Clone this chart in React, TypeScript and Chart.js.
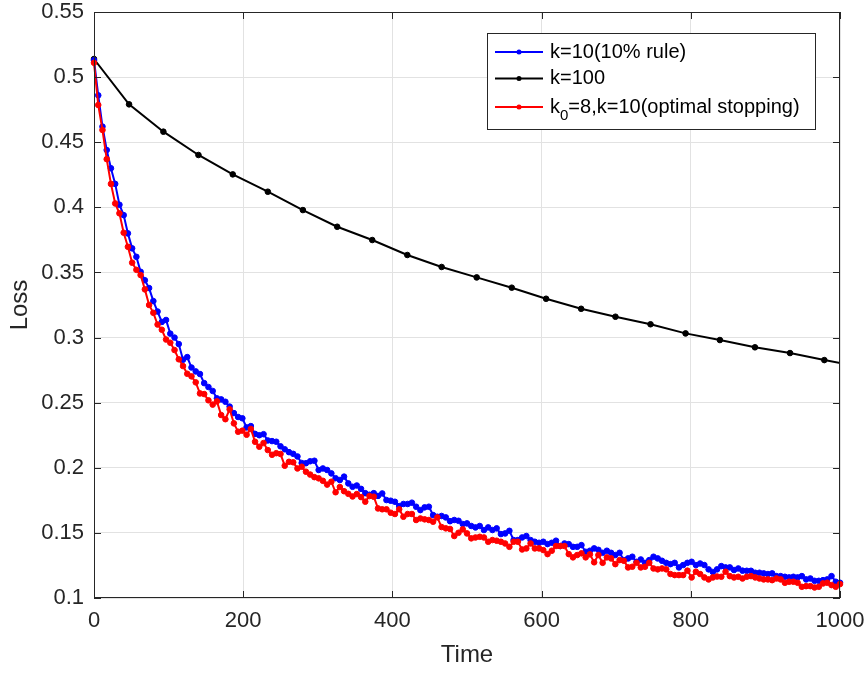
import React, { useEffect, useRef } from "react";
import { Chart, registerables } from "chart.js";

Chart.register(...registerables);

// ---- data ----
const xTickValues = [0, 200, 400, 600, 800, 1000];
const yTickValues = [0.1, 0.15, 0.2, 0.25, 0.3, 0.35, 0.4, 0.45, 0.5, 0.55];

const blackTimes = [0, 47, 93, 140, 186, 233, 280, 326, 373, 420, 466, 513, 560, 606, 653, 699, 746, 793, 839, 886, 933, 979, 1026];
const blackLoss = [0.5139, 0.4791, 0.4581, 0.4402, 0.4253, 0.412, 0.3979, 0.3851, 0.3749, 0.3634, 0.3542, 0.3462, 0.3383, 0.3298, 0.3221, 0.316, 0.3102, 0.3032, 0.2981, 0.2925, 0.2881, 0.2827, 0.2777];

const blueLoss = [
  0.513, 0.486, 0.462, 0.444, 0.43, 0.418, 0.402, 0.394, 0.38, 0.3685,
  0.362, 0.3505, 0.344, 0.338, 0.328, 0.32, 0.312, 0.3135, 0.303, 0.3,
  0.295, 0.283, 0.285, 0.277, 0.274, 0.272, 0.265, 0.262, 0.259, 0.2533,
  0.2525, 0.2507, 0.247, 0.242, 0.239, 0.238, 0.231, 0.232, 0.226, 0.225,
  0.2258, 0.221, 0.2205, 0.22, 0.2165, 0.2142, 0.212, 0.2107, 0.2087, 0.2037,
  0.2035, 0.205, 0.2054, 0.1983, 0.1995, 0.1983, 0.1957, 0.192, 0.1906, 0.1932,
  0.188, 0.1854, 0.1864, 0.1838, 0.1805, 0.1793, 0.1805, 0.1784, 0.1803, 0.1752,
  0.1747, 0.1739, 0.1706, 0.1722, 0.1722, 0.1732, 0.1701, 0.1675, 0.1696, 0.1701,
  0.1637, 0.1624, 0.163, 0.1619, 0.159, 0.1599, 0.1593, 0.1568, 0.1573, 0.1553,
  0.1542, 0.1553, 0.1522, 0.1542, 0.1522, 0.1535, 0.1491, 0.1496, 0.1516, 0.1445,
  0.1445, 0.1465, 0.1476, 0.1445, 0.1432, 0.1424, 0.1432, 0.1414, 0.1424, 0.144,
  0.1399, 0.1419, 0.1414, 0.1393, 0.1393, 0.1406, 0.1355, 0.1363, 0.1381, 0.137,
  0.1347, 0.1363, 0.1347, 0.133, 0.1347, 0.1291, 0.1304, 0.1317, 0.1278, 0.1296,
  0.127, 0.1291, 0.1317, 0.1304, 0.1286, 0.127, 0.126, 0.127, 0.1235, 0.1253,
  0.127, 0.1278, 0.1253, 0.1265, 0.1253, 0.122, 0.12, 0.122, 0.1245, 0.1235,
  0.1235, 0.1215, 0.1227, 0.121, 0.1209, 0.1209, 0.1194, 0.1194, 0.1189, 0.1184,
  0.1189, 0.1168, 0.1168, 0.1163, 0.1158, 0.1163, 0.1158, 0.1168, 0.1143, 0.115,
  0.1132, 0.1132, 0.1137, 0.1143, 0.1168, 0.1125, 0.1117,
];

const redLoss = [
  0.511, 0.4786, 0.4594, 0.437, 0.418, 0.403, 0.3954, 0.3805, 0.3697, 0.3575,
  0.352, 0.348, 0.337, 0.325, 0.319, 0.31, 0.306, 0.2985, 0.296, 0.2904,
  0.2833, 0.2781, 0.2722, 0.2702, 0.2656, 0.2571, 0.2566, 0.2518, 0.2485, 0.251,
  0.2405, 0.2373, 0.2449, 0.2341, 0.2277, 0.2285, 0.2254, 0.2298, 0.22, 0.2162,
  0.219, 0.2136, 0.21, 0.2112, 0.2106, 0.2016, 0.2046, 0.2042, 0.1995, 0.2008,
  0.197, 0.1948, 0.1928, 0.1919, 0.19, 0.1871, 0.1893, 0.1812, 0.1852, 0.182,
  0.18, 0.178, 0.1798, 0.1775, 0.174, 0.1783, 0.1778, 0.1688, 0.1681, 0.1681,
  0.1655, 0.1645, 0.1681, 0.1624, 0.1645, 0.1645, 0.1599, 0.1611, 0.1604, 0.1599,
  0.1586, 0.1619, 0.1545, 0.1535, 0.153, 0.1476, 0.1501, 0.1527, 0.1496, 0.1458,
  0.1465, 0.147, 0.1465, 0.1432, 0.1445, 0.144, 0.1432, 0.1419, 0.1393, 0.1432,
  0.1432, 0.1373, 0.1381, 0.1419, 0.1381, 0.1381, 0.1368, 0.1337, 0.1363, 0.1399,
  0.1399, 0.1399, 0.1337, 0.1312, 0.133, 0.1343, 0.1312, 0.1335, 0.1274, 0.133,
  0.127, 0.1312, 0.1304, 0.126, 0.1291, 0.1286, 0.1235, 0.124, 0.127, 0.1235,
  0.124, 0.127, 0.1227, 0.122, 0.1227, 0.122, 0.1184, 0.1176, 0.1176, 0.1176,
  0.121, 0.1158, 0.1202, 0.1184, 0.1158, 0.1143, 0.1158, 0.1165, 0.1163, 0.1202,
  0.1168, 0.1158, 0.1163, 0.115, 0.1163, 0.1168, 0.1158, 0.115, 0.1143, 0.1143,
  0.1137, 0.115, 0.1143, 0.1117, 0.1125, 0.1125, 0.1117, 0.1086, 0.1091, 0.1091,
  0.1081, 0.1086, 0.1112, 0.1117, 0.1099, 0.1086, 0.1107,
];

// fast runs are sampled on a uniform time grid covering 0..1000
const fastSteps = 176;
const fastTimes = blueLoss.map((_, i) => (i * 1000) / fastSteps);

const legendLabels = ["k=10(10% rule)", "k=100", "k_0=8,k=10(optimal stopping)"];
const seriesColors = ["#0000ff", "#000000", "#ff0000"];
const axisColor = "#262626";
const gridColor = "#e2e2e2";
const FONT = "'Liberation Sans', Arial, Helvetica, sans-serif";

const frame = {
  id: "frame",
  afterDatasetsDraw(chart: any) {
    const { ctx, chartArea: a, scales } = chart;
    ctx.save();
    ctx.strokeStyle = axisColor;
    ctx.lineWidth = 1;
    const tl = 7;
    ctx.beginPath();
    for (const v of xTickValues) {
      const px = Math.round(scales.x.getPixelForValue(v)) + 0.5;
      ctx.moveTo(px, a.bottom);
      ctx.lineTo(px, a.bottom - tl);
      ctx.moveTo(px, a.top);
      ctx.lineTo(px, a.top + tl);
    }
    for (const v of yTickValues) {
      const py = Math.round(scales.y.getPixelForValue(v)) + 0.5;
      ctx.moveTo(a.left, py);
      ctx.lineTo(a.left + tl, py);
      ctx.moveTo(a.right, py);
      ctx.lineTo(a.right - tl, py);
    }
    ctx.stroke();
    ctx.strokeRect(Math.round(a.left) + 0.5, Math.round(a.top) + 0.5, Math.round(a.right - a.left) - 1, Math.round(a.bottom - a.top) - 1);

    // legend
    const lx = a.right - 353;
    const ly = a.top + 21;
    const lw = 328;
    const lh = 96;
    ctx.fillStyle = "#ffffff";
    ctx.fillRect(lx, ly, lw, lh);
    ctx.strokeStyle = axisColor;
    ctx.strokeRect(lx + 0.5, ly + 0.5, lw, lh);
    const rows = [ly + 19, ly + 45.5, ly + 74];
    legendLabels.forEach((label, i) => {
      const y = rows[i];
      ctx.strokeStyle = seriesColors[i];
      ctx.lineWidth = 2;
      ctx.beginPath();
      ctx.moveTo(lx + 8, y);
      ctx.lineTo(lx + 56, y);
      ctx.stroke();
      ctx.fillStyle = seriesColors[i];
      ctx.beginPath();
      ctx.arc(lx + 32, y, 2.5, 0, Math.PI * 2);
      ctx.fill();
      ctx.fillStyle = "#000000";
      ctx.textBaseline = "middle";
      ctx.textAlign = "left";
      ctx.font = `20px ${FONT}`;
      let x = lx + 63;
      const parts = label.split("_");
      if (parts.length === 2) {
        ctx.fillText(parts[0], x, y);
        x += ctx.measureText(parts[0]).width;
        const sub = parts[1].charAt(0);
        ctx.font = `15px ${FONT}`;
        ctx.fillText(sub, x, y + 9);
        x += ctx.measureText(sub).width;
        ctx.font = `20px ${FONT}`;
        ctx.fillText(parts[1].slice(1), x, y);
      } else {
        ctx.fillText(label, x, y);
      }
    });
    ctx.restore();
  },
};

export default function App() {
  const ref = useRef<HTMLCanvasElement | null>(null);
  useEffect(() => {
    if (!ref.current) return;
    const mk = (times: number[], vals: number[]) => vals.map((v, i) => ({ x: times[i], y: v }));
    const common = { borderWidth: 2, pointRadius: 2.8, pointBorderWidth: 1 };
    const chart = new Chart(ref.current, {
      type: "line",
      data: {
        datasets: [
          {
            ...common,
            label: legendLabels[0],
            data: mk(fastTimes, blueLoss),
            borderColor: seriesColors[0],
            backgroundColor: seriesColors[0],
            pointBackgroundColor: seriesColors[0],
            order: 1,
            clip: { left: 6, top: 6, right: 4, bottom: 6 },
          },
          {
            ...common,
            label: legendLabels[1],
            data: mk(blackTimes, blackLoss),
            borderColor: seriesColors[1],
            backgroundColor: seriesColors[1],
            pointBackgroundColor: seriesColors[1],
            order: 2,
            clip: { left: 6, top: 6, right: 0, bottom: 6 },
          },
          {
            ...common,
            label: legendLabels[2],
            data: mk(fastTimes, redLoss),
            borderColor: seriesColors[2],
            backgroundColor: seriesColors[2],
            pointBackgroundColor: seriesColors[2],
            order: 0,
            clip: { left: 6, top: 6, right: 4, bottom: 6 },
          },
        ] as any,
      },
      options: {
        animation: false,
        responsive: false,
        maintainAspectRatio: false,
        layout: { padding: { left: 0, right: 25, top: 12, bottom: 0 } },
        plugins: { legend: { display: false }, tooltip: { enabled: false } },
        elements: { line: { tension: 0 } },
        scales: {
          x: {
            type: "linear",
            min: 0,
            max: 1000,
            afterFit(s: any) {
              s.height = 77;
              s.paddingLeft = 0;
              s.paddingRight = 0;
              s.paddingTop = 0;
              s.paddingBottom = 0;
            },
            afterBuildTicks(s: any) {
              s.ticks = xTickValues.map((v) => ({ value: v }));
            },
            ticks: {
              padding: 12,
              color: axisColor,
              maxRotation: 0,
              font: { family: FONT, size: 22, lineHeight: 1 },
              callback: (v: any) => String(v),
            },
            grid: { color: gridColor, drawTicks: false },
            border: { display: false },
            title: {
              display: true,
              text: "Time",
              color: axisColor,
              font: { family: FONT, size: 24 },
              padding: { top: 0, bottom: 5 },
            },
          },
          y: {
            type: "linear",
            min: 0.1,
            max: 0.55,
            afterFit(s: any) {
              s.width = 94;
              s.paddingLeft = 0;
              s.paddingRight = 0;
              s.paddingTop = 0;
              s.paddingBottom = 0;
            },
            afterBuildTicks(s: any) {
              s.ticks = yTickValues.map((v) => ({ value: v }));
            },
            ticks: {
              padding: 10,
              color: axisColor,
              font: { family: FONT, size: 22, lineHeight: 1 },
              callback: (v: any) => String(Number(Number(v).toFixed(2))),
            },
            grid: { color: gridColor, drawTicks: false },
            border: { display: false },
            title: {
              display: true,
              text: "Loss",
              color: axisColor,
              font: { family: FONT, size: 24 },
              padding: { top: 6, bottom: 0 },
            },
          },
        },
      } as any,
      plugins: [frame],
    });
    return () => chart.destroy();
  }, []);
  return (
    <div style={{ position: "fixed", left: 0, top: 0, width: 865, height: 675, background: "#ffffff" }}>
      <canvas ref={ref} width={865} height={675} style={{ display: "block", width: 865, height: 675 }} />
    </div>
  );
}
